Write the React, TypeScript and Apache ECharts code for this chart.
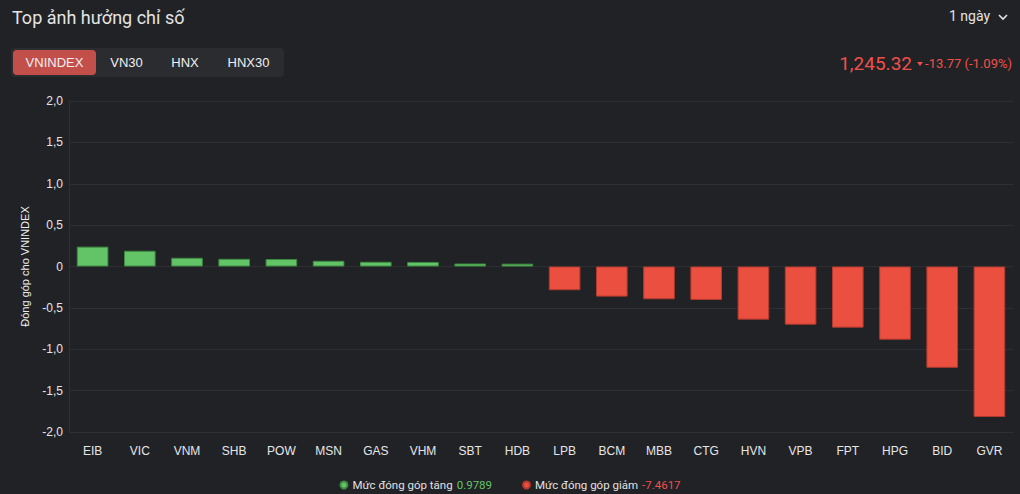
import React, { useEffect, useRef } from "react";
import * as echarts from "echarts";

const categories = ["EIB", "VIC", "VNM", "SHB", "POW", "MSN", "GAS", "VHM", "SBT", "HDB", "LPB", "BCM", "MBB", "CTG", "HVN", "VPB", "FPT", "HPG", "BID", "GVR"];
const gainValues = [0.24, 0.19, 0.105, 0.093, 0.09, 0.069, 0.057, 0.055, 0.036, 0.034, null, null, null, null, null, null, null, null, null, null];
const lossValues = [null, null, null, null, null, null, null, null, null, null, -0.287, -0.364, -0.396, -0.404, -0.642, -0.703, -0.739, -0.885, -1.224, -1.818];
const gainTotal = "0.9789";
const lossTotal = "-7.4617";
const tabs = ["VNINDEX", "VN30", "HNX", "HNX30"];
const indexValue = "1,245.32";
const indexChange = "-13.77 (-1.09%)";

const BG = "#212226";
const GREEN = "#62c466";
const RED = "#eb4f3f";
const FONT = "'Liberation Sans', Arial, sans-serif";

export default function App() {
  const ref = useRef<HTMLDivElement>(null);
  useEffect(() => {
    if (!ref.current) return;
    const chart = echarts.init(ref.current, undefined, { renderer: "svg" });
    const tabX = [13, 97, 156, 214];
    const tabW = [83, 59, 58, 69];
    const graphic: any[] = [
      { type: "text", left: 12, top: 8, style: { text: "Top ảnh hưởng chỉ số", fill: "#e4e4e4", font: "18px Roboto, sans-serif" } },
      { type: "text", left: 949, top: 9, style: { text: "1 ngày", fill: "#e4e4e4", font: "14px Roboto, sans-serif" } },
      { type: "polyline", shape: { points: [[999, 15], [1003, 19], [1007, 15]] }, style: { stroke: "#e4e4e4", lineWidth: 1.6, fill: "none" } },
      { type: "rect", shape: { x: 11, y: 48, width: 273, height: 29, r: 4 }, style: { fill: "#2b2c30" } },
      { type: "rect", shape: { x: 13, y: 50, width: 83, height: 25, r: 4 }, style: { fill: "#c34f4b" } },
      { type: "text", x: 912, y: 63, style: { text: indexValue, fill: "#f0504a", font: "19px Roboto, sans-serif", align: "right", verticalAlign: "middle" } },
      { type: "polygon", shape: { points: [[917, 62], [923, 62], [920, 66]] }, style: { fill: "#f0504a" } },
      { type: "text", x: 1012, y: 63, style: { text: indexChange, fill: "#f0504a", font: "13px Roboto, sans-serif", align: "right", verticalAlign: "middle" } },
    ];
    tabs.forEach((t, i) => {
      graphic.push({
        type: "text",
        x: tabX[i] + tabW[i] / 2,
        y: 62.5,
        style: { text: t, fill: "#f0f0f0", font: "13px " + FONT, align: "center", verticalAlign: "middle" },
      });
    });

    chart.setOption({
      animation: false,
      backgroundColor: BG,
      textStyle: { fontFamily: FONT },
      graphic,
      grid: { left: 69, right: 7, top: 101, bottom: 62 },
      legend: {
        top: 474,
        left: "center",
        icon: "circle",
        itemWidth: 7,
        itemHeight: 7,
        itemGap: 30,
        data: ["Mức đóng góp tăng", "Mức đóng góp giảm"],
        textStyle: {
          color: "#e0e0e0",
          fontSize: 11.5,
          fontFamily: "Roboto, sans-serif",
          rich: {
            t: { color: "#e0e0e0", fontSize: 11.5, fontFamily: "Roboto, sans-serif" },
            g: { color: GREEN, fontSize: 11.5, fontFamily: "Roboto, sans-serif", padding: [0, 0, 0, 4] },
            r: { color: "#f0504a", fontSize: 11.5, fontFamily: "Roboto, sans-serif", padding: [0, 0, 0, 4] },
          },
        },
        formatter: (name: string) =>
          name === "Mức đóng góp tăng" ? `{t|${name}}{g|${gainTotal}}` : `{t|${name}}{r|${lossTotal}}`,
      },
      xAxis: {
        type: "category",
        data: categories,
        position: "bottom",
        axisLine: { show: false },
        axisTick: { show: false },
        axisLabel: { color: "#e6e6e6", fontSize: 12, margin: 13, interval: 0 },
      },
      yAxis: {
        type: "value",
        min: -2,
        max: 2,
        interval: 0.5,
        name: "Đóng góp cho VNINDEX",
        nameLocation: "middle",
        nameGap: 39,
        nameRotate: 90,
        nameTextStyle: { color: "#eeeeee", fontSize: 11 },
        axisLine: { show: true, lineStyle: { color: "#2e2f33" } },
        axisTick: { show: false },
        axisLabel: {
          color: "#e6e6e6",
          fontSize: 12,
          margin: 6,
          formatter: (v: number) => (v === 0 ? "0" : v.toFixed(1).replace(".", ",")),
        },
        splitLine: { lineStyle: { color: "#2e2f33" } },
      },
      series: [
        {
          name: "Mức đóng góp tăng",
          type: "bar",
          stack: "c",
          data: gainValues,
          barCategoryGap: "33%",
          itemStyle: { color: GREEN, borderColor: "#3d8a40", borderWidth: 1 },
        },
        {
          name: "Mức đóng góp giảm",
          type: "bar",
          stack: "c",
          data: lossValues,
          barCategoryGap: "33%",
          itemStyle: { color: RED, borderColor: "#b23a2e", borderWidth: 1 },
        },
      ],
    });
    return () => chart.dispose();
  }, []);
  return (
    <div
      ref={ref}
      style={{ position: "fixed", left: 0, top: 0, width: 1020, height: 494, background: BG }}
    />
  );
}
